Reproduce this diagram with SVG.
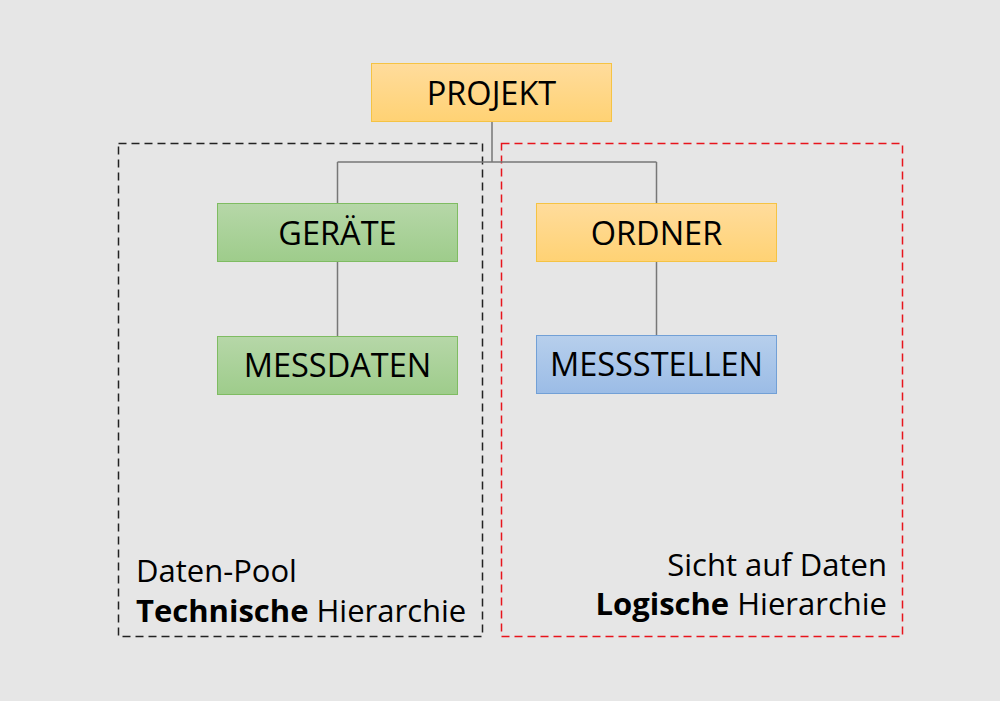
<svg xmlns="http://www.w3.org/2000/svg" width="1000" height="701" viewBox="0 0 1000 701">
<defs>
<linearGradient id="gOr" x1="0" y1="0" x2="0" y2="1"><stop offset="0" stop-color="#ffdc9c"/><stop offset="1" stop-color="#ffd274"/></linearGradient>
<linearGradient id="gGr" x1="0" y1="0" x2="0" y2="1"><stop offset="0" stop-color="#b6d7a8"/><stop offset="1" stop-color="#9ecc8b"/></linearGradient>
<linearGradient id="gBl" x1="0" y1="0" x2="0" y2="1"><stop offset="0" stop-color="#b7cfec"/><stop offset="1" stop-color="#9bbce6"/></linearGradient>
<style>
.or{fill:url(#gOr);stroke:#f5c344;stroke-width:1}
.gr{fill:url(#gGr);stroke:#7fbc62;stroke-width:1}
.bl{fill:url(#gBl);stroke:#72a0d6;stroke-width:1}
.lbl{font-family:"Open Sans","Noto Sans",sans-serif;font-size:32.5px;fill:#000;text-anchor:middle}
.cap{font-family:"Open Sans","Noto Sans",sans-serif;font-size:31px;fill:#000}
.con{fill:none;stroke:#777;stroke-width:1.5}
</style>
</defs>
<rect width="1000" height="701" fill="#e6e6e6"/>
<g id="groups">
<rect x="118.5" y="143.5" width="364" height="493" fill="none" stroke="#222" stroke-width="1.5" stroke-dasharray="8,5"/>
<rect x="501.5" y="143.5" width="401" height="493" fill="none" stroke="#e8141c" stroke-width="1.5" stroke-dasharray="8,5"/>
</g>
<g id="connectors">
<path class="con" d="M492,121 V162 M337.5,162 H656.5 M337.5,162 V203 M656.5,162 V203 M337.5,262 V336 M656.5,262 V335"/>
</g>
<g id="projekt"><rect class="or" x="371.5" y="63.5" width="240" height="58"/><text class="lbl" x="491.5" y="105">PROJEKT</text></g>
<g id="geraete"><rect class="gr" x="217.5" y="203.5" width="240" height="58"/><text class="lbl" x="337.5" y="245">GERÄTE</text></g>
<g id="messdaten"><rect class="gr" x="217.5" y="336.5" width="240" height="58"/><text class="lbl" x="337.5" y="377">MESSDATEN</text></g>
<g id="ordner"><rect class="or" x="536.5" y="203.5" width="240" height="58"/><text class="lbl" x="656.5" y="245">ORDNER</text></g>
<g id="messstellen"><rect class="bl" x="536.5" y="335.5" width="240" height="58"/><text class="lbl" x="656.5" y="376">MESSSTELLEN</text></g>
<g id="captions">
<text class="cap" x="136" y="582">Daten-Pool</text>
<text class="cap" x="136" y="622"><tspan font-weight="bold">Technische</tspan> Hierarchie</text>
<text class="cap" x="887" y="576" text-anchor="end">Sicht auf Daten</text>
<text class="cap" x="887" y="615" text-anchor="end"><tspan font-weight="bold">Logische</tspan> Hierarchie</text>
</g>
</svg>
